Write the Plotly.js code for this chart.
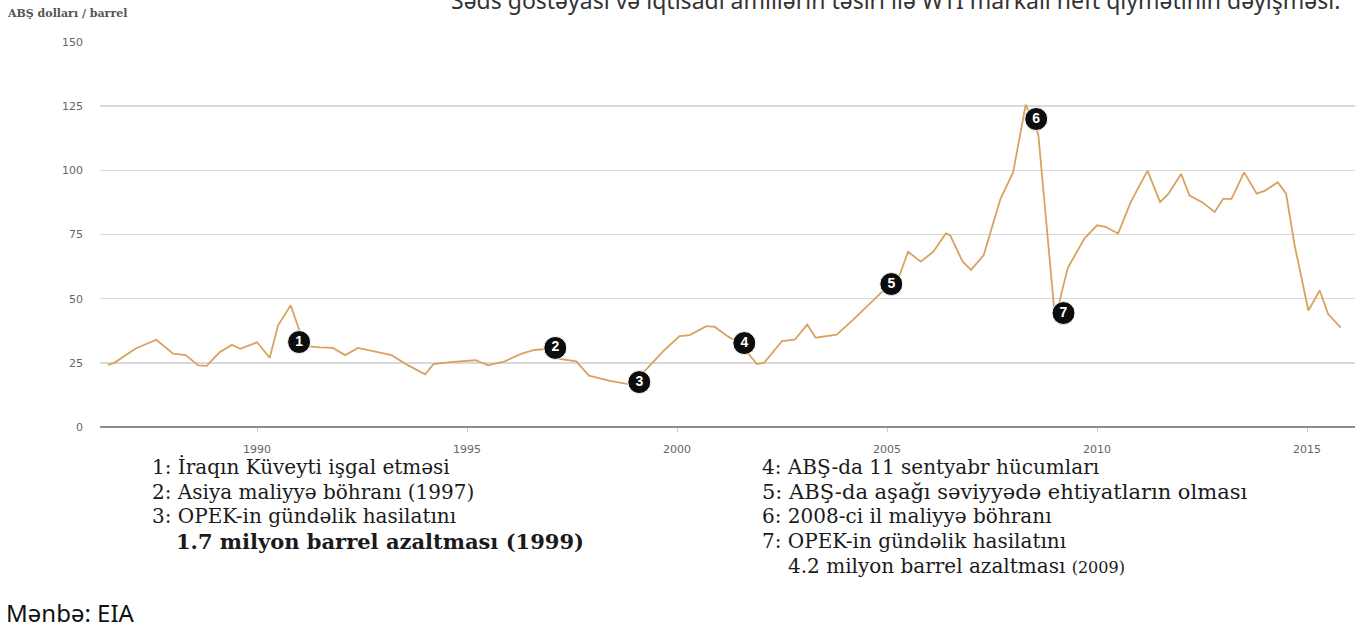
<!DOCTYPE html>
<html>
<head>
<meta charset="utf-8">
<script src="https://cdn.plot.ly/plotly-3.0.1.min.js"></script>
<style>html,body{margin:0;padding:0;background:#fff;}#chart{width:1362px;height:634px;}</style>
</head>
<body>
<div id="chart"></div>
<script>
// ---- DATA ----
var years = [1986.45,1986.6,1987.1,1987.6,1988.0,1988.3,1988.6,1988.8,1989.1,1989.4,1989.6,1990.0,1990.3,1990.5,1990.8,1991.0,1991.2,1991.5,1991.8,1992.1,1992.4,1992.9,1993.2,1993.6,1994.0,1994.2,1994.6,1995.2,1995.5,1995.9,1996.3,1996.6,1997.0,1997.2,1997.6,1997.9,1998.4,1998.9,1999.3,1999.7,2000.06,2000.3,2000.7,2000.9,2001.2,2001.5,2001.9,2002.07,2002.5,2002.8,2003.1,2003.3,2003.8,2004.2,2004.6,2005.0,2005.3,2005.5,2005.8,2006.1,2006.4,2006.5,2006.8,2007.0,2007.3,2007.7,2008.0,2008.3,2008.5,2008.6,2009.0,2009.3,2009.7,2010.0,2010.2,2010.5,2010.8,2011.2,2011.5,2011.7,2012.0,2012.2,2012.5,2012.8,2013.0,2013.2,2013.5,2013.8,2014.0,2014.3,2014.5,2014.7,2015.03,2015.3,2015.5,2015.8];
var prices = [24.2,25,30.5,34,28.6,28,24,23.8,29,32,30.5,33,27,39.6,47.4,38,31.5,31,30.8,28,30.8,29,28,24,20.5,24.5,25.3,26,24,25.6,28.6,30,30.5,26.5,25.6,20,18,16.5,23,30,35.4,35.8,39.3,39,35.4,32.5,24.5,25,33.5,34,39.9,34.8,36,41.9,48.3,54.5,59.3,68.3,64.4,68.3,75.4,74.7,64.4,61.2,67,88.9,99.2,125.6,118,114,42,61.9,73.5,78.6,78,75.4,87.6,99.9,87.6,90.9,98.6,90.2,87.6,83.8,88.9,88.9,99.2,90.9,92.1,95.4,90.9,71,45.4,53.2,44,38.7];

var eventYears  = [1991.0, 1997.1, 1999.1, 2001.6, 2005.1, 2008.55, 2009.2];
var eventValues = [33.1, 30.8, 17.5, 32.7, 55.7, 120, 44.4];
var eventLabels = ["1","2","3","4","5","6","7"];

var yTicks = [0,25,50,75,100,125,150];
var xTicks = [1990,1995,2000,2005,2010,2015];

var notesLeft = ["1: İraqın Küveyti işgal etməsi","2: Asiya maliyyə böhranı (1997)","3: OPEK-in gündəlik hasilatını","<b>1.7 milyon barrel azaltması (1999)</b>"];
var notesRight = ["4: ABŞ-da 11 sentyabr hücumları","5: ABŞ-da aşağı səviyyədə ehtiyatların olması","6: 2008-ci il maliyyə böhranı","7: OPEK-in gündəlik hasilatını","4.2 milyon barrel azaltması <span style='font-size:16px'>(2009)</span>"];

var titleText = "Səds göstəyası və iqtisadi amillərin təsiri ilə WTI markalı neft qiymətinin dəyişməsi.";
var yUnit = "ABŞ dolları / barrel";
var sourceText = "Mənbə: EIA";

// ---- LAYOUT HELPERS ----
var W = 1362, H = 634, mL = 100, mR = 7, mT = 42, mB = 207;
var pw = W - mL - mR, ph = H - mT - mB;
function px(x){ return (x - mL) / pw; }
function py(y){ return (H - mB - y) / ph; }

var noteFont = {family:'DejaVu Serif', size:20, color:'#1a1a1a'};
var annotations = [];
annotations.push({text: titleText, xref:'paper', yref:'paper', x: px(449), y: py(18), xanchor:'left', yanchor:'bottom', showarrow:false, font:{family:'Noto Sans', size:23, color:'#333'}});
annotations.push({text: '<b>' + yUnit + '</b>', xref:'paper', yref:'paper', x: px(5), y: py(13), xanchor:'left', yanchor:'middle', showarrow:false, font:{family:'DejaVu Serif', size:11, color:'#555'}});
annotations.push({text: sourceText, xref:'paper', yref:'paper', x: px(4), y: py(612), xanchor:'left', yanchor:'middle', showarrow:false, font:{family:'Noto Sans', size:24, color:'#111'}});

var leftX = [150,150,150,174], leftY = [467,492,516,541];
notesLeft.forEach(function(t,i){
  var f = (i === 3) ? {family:'DejaVu Serif', size:21, color:'#1a1a1a'} : noteFont;
  annotations.push({text: t, xref:'paper', yref:'paper', x: px(leftX[i]), y: py(leftY[i]), xanchor:'left', yanchor:'middle', showarrow:false, font: f});
});
var rightX = [760,760,760,760,786], rightY = [467,492,516,541,566];
notesRight.forEach(function(t,i){
  var f = (i === 1) ? {family:'DejaVu Serif', size:21, color:'#1a1a1a'} : noteFont;
  annotations.push({text: t, xref:'paper', yref:'paper', x: px(rightX[i]), y: py(rightY[i]), xanchor:'left', yanchor:'middle', showarrow:false, font: f});
});

var traces = [
  {x: years, y: prices, type:'scatter', mode:'lines', line:{color:'#D9A25E', width:1.8}, hoverinfo:'skip', showlegend:false},
  {x: eventYears, y: eventValues, type:'scatter', mode:'markers+text', text: eventLabels, textposition:'middle center',
   textfont:{family:'Arial', size:14, color:'#fff', weight:'bold'},
   marker:{size:23, color:'#0d0d0d', line:{color:'#fff', width:1}}, hoverinfo:'skip', showlegend:false}
];

var layout = {
  width: W, height: H,
  margin: {l: mL, r: mR, t: mT, b: mB},
  paper_bgcolor:'#fff', plot_bgcolor:'#fff',
  showlegend:false,
  xaxis: {range:[1986.26, 2016.14], tickvals: xTicks, ticktext: xTicks.map(String), showgrid:false, zeroline:false,
          ticks:'outside', ticklen:4, tickcolor:'#ccc', ticklabelstandoff: 8,
          tickfont:{family:'DejaVu Sans', size:11, color:'#666'}, showline:false},
  yaxis: {range:[0,150], tickvals: yTicks, ticktext: yTicks.map(String), showgrid:true, gridcolor:'#d9d9d9', gridwidth:1.5,
          zeroline:true, zerolinecolor:'#8c8c8c', zerolinewidth:2, ticks:'', ticklabelstandoff: 16,
          tickfont:{family:'DejaVu Sans', size:11, color:'#666'}, showline:false},
  annotations: annotations
};

Plotly.newPlot('chart', traces, layout, {displayModeBar:false, staticPlot:true});
</script>
</body>
</html>
